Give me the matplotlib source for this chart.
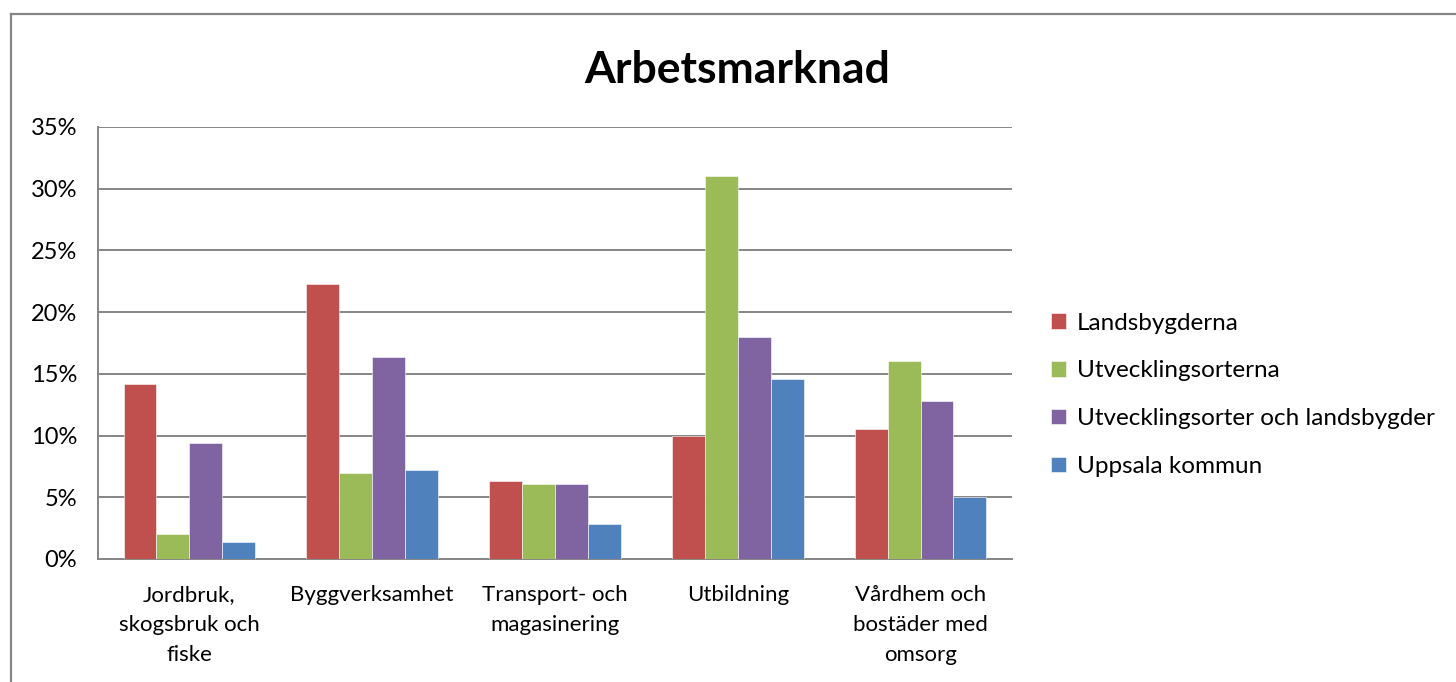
import matplotlib.pyplot as plt
import numpy as np
from matplotlib.lines import Line2D

plt.rcParams['font.family'] = ['Lato', 'DejaVu Sans']

categories = ['Jordbruk,\nskogsbruk och\nfiske', 'Byggverksamhet', 'Transport- och\nmagasinering',
              'Utbildning', 'Vårdhem och\nbostäder med\nomsorg']
series_names = ['Landsbygderna', 'Utvecklingsorterna', 'Utvecklingsorter och landsbygder', 'Uppsala kommun']
landsbygderna = [14.2, 22.3, 6.3, 10.0, 10.5]
utvecklingsorterna = [2.0, 7.0, 6.1, 31.0, 16.0]
utv_och_landsbygder = [9.4, 16.4, 6.1, 18.0, 12.8]
uppsala = [1.4, 7.2, 2.8, 14.6, 5.0]
colors = ['#C0504D', '#9BBB59', '#8064A2', '#4F81BD']

fig = plt.figure(figsize=(14.56, 6.82), dpi=100)
ax = fig.add_axes([0.0673, 0.1804, 0.6277, 0.6334])

x = np.arange(len(categories))
w = 0.18
all_series = [landsbygderna, utvecklingsorterna, utv_och_landsbygder, uppsala]
for k, vals in enumerate(all_series):
    ax.bar(x + (k - 1.5) * w, vals, w, color=colors[k], label=series_names[k],
           edgecolor='#ffffff', linewidth=0.4, zorder=3)

ax.set_xlim(-0.5, len(categories) - 0.5)
ax.set_ylim(0, 35)
ax.set_yticks(range(0, 36, 5))
ax.set_yticklabels([f'{v}%' for v in range(0, 36, 5)], fontsize=17)
ax.set_xticks(x)
ax.set_xticklabels(categories, fontsize=16, linespacing=1.6)
ax.tick_params(axis='x', length=0, pad=19)
ax.tick_params(axis='y', length=0, pad=15)
ax.grid(axis='y', color='#868686', linewidth=1.4, zorder=0)
for s in ['top', 'right']:
    ax.spines[s].set_visible(False)
for s in ['left', 'bottom']:
    ax.spines[s].set_color('#868686')
    ax.spines[s].set_linewidth(1.4)

fig.text(0.506, 0.897, 'Arbetsmarknad', fontsize=32, fontweight='bold', ha='center', va='center')

ax.legend(loc='center left', bbox_to_anchor=(1.019, 0.38), frameon=False, fontsize=17.5,
          handlelength=0.6, handleheight=0.6, handletextpad=0.45, labelspacing=1.1)

# outer chart border (left and top only visible)
fig.add_artist(Line2D([0.0075, 0.0075], [0, 0.98], color='#868686', linewidth=1.6, transform=fig.transFigure))
fig.add_artist(Line2D([0.0075, 1.0], [0.98, 0.98], color='#868686', linewidth=1.6, transform=fig.transFigure))

fig.savefig('out.png', dpi=100)
